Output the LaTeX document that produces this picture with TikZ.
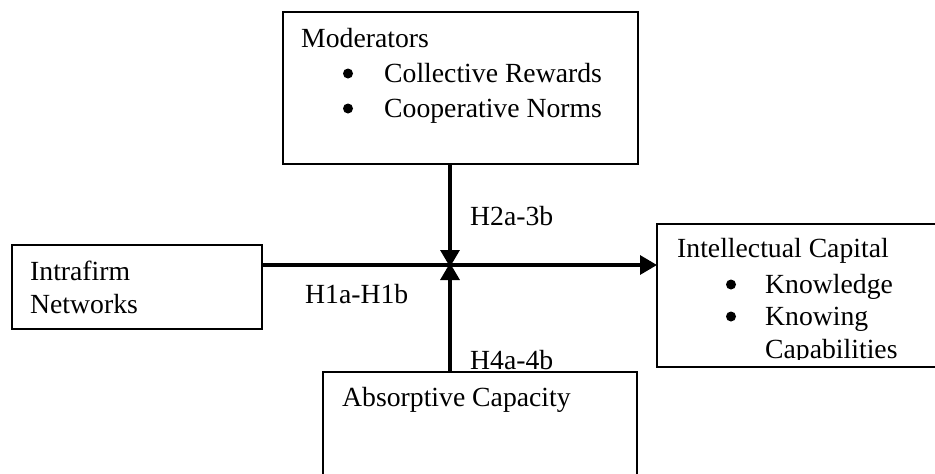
\documentclass[tikz,border=0pt]{standalone}
\usepackage{fontspec}
\setmainfont{Liberation Serif}
\usetikzlibrary{arrows.meta}
\begin{document}
\begin{tikzpicture}[x=1pt,y=-1pt,
  boxstyle/.style={draw, line width=1.4pt, fill=white},
  anchorbox/.style={inner sep=0pt, outer sep=0pt},
  txt/.style={anchor=base west, inner sep=0pt, font=\fontsize{27.7pt}{33pt}\selectfont},
  bul/.style={circle, fill=black, inner sep=0pt, minimum size=10pt},
  link/.style={line width=3.3pt, -{Triangle[length=17pt 0 0,width=19pt 0 0]}}]
\useasboundingbox (0,0) rectangle (935,474);
\clip (0,0) rectangle (935,474);
% boxes
\draw[boxstyle] (283,12) rectangle (638,164);
\node[anchorbox, minimum width=355pt, minimum height=152pt] (mod) at (460.5,88) {};
\draw[boxstyle] (12,245) rectangle (262,329);
\node[anchorbox, minimum width=250pt, minimum height=84pt] (intra) at (137,287) {};
\draw[boxstyle] (657,224) rectangle (940,367);
\node[anchorbox, minimum width=283pt, minimum height=143pt] (intel) at (798.5,295.5) {};
% texts
\node[txt] (tmod) at (301,47) {Moderators};
\node[bul] (b1) at (348,73.5) {};
\node[txt] (t1) at (384,82) {Collective Rewards};
\node[bul] (b2) at (348,108.5) {};
\node[txt] (t2) at (384,117) {Cooperative Norms};
\node[txt] (tin1) at (30,280) {Intrafirm};
\node[txt] (tin2) at (30,313) {Networks};
\node[txt] (tic) at (677,257) {Intellectual Capital};
\node[bul] (b3) at (731,284.5) {};
\node[txt] (k1) at (765,293) {Knowledge};
\node[bul] (b4) at (731,316.5) {};
\node[txt] (k2) at (765,325) {Knowing};
\begin{scope}
\clip (657,330) rectangle (935,359);
\node[txt] (k3) at (765,358) {Capabilities};
\end{scope}
\node[txt] (h2) at (470,225) {H2a-3b};
\node[txt] (h1) at (305,303) {H1a-H1b};
\node[txt] (h4) at (470,369) {H4a-4b};
% absorptive box drawn over the label
\draw[boxstyle] (323,372) rectangle (637,520);
\node[anchorbox, minimum width=314pt, minimum height=148pt] (abs) at (480,446) {};
\node[txt] (tabs) at (342,406) {Absorptive Capacity};
% connectors
\coordinate (j) at (450,265);
\draw[link] (intra.east |- j) -- (intel.west |- j);
\draw[link] (mod.south -| j) -- ([yshift=-2pt]j);
\draw[link] (abs.north -| j) -- ([yshift=2pt]j);
\end{tikzpicture}
\end{document}
